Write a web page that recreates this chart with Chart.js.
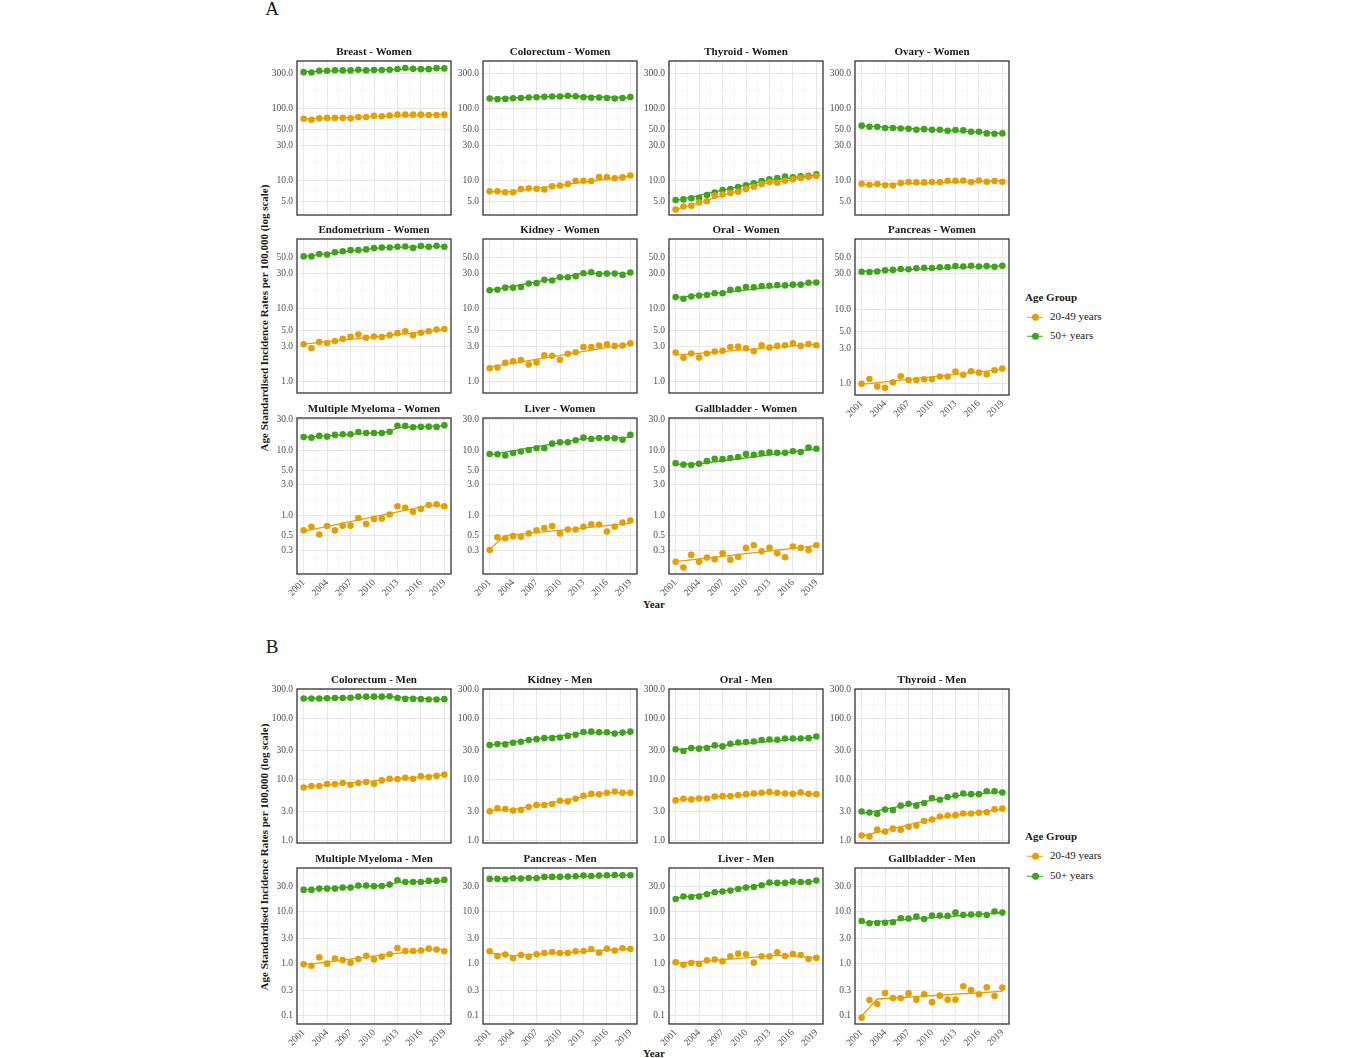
<!DOCTYPE html>
<html>
<head>
<meta charset="utf-8">
<script src="https://cdn.jsdelivr.net/npm/chart.js@4.4.1/dist/chart.umd.min.js"></script>
<style>
  body { margin: 0; background: #fff; width: 1366px; height: 1058px; position: relative; overflow: hidden;
         font-family: "Liberation Serif", "Times New Roman", serif; color: #1a1a1a; }
  .lbl { position: absolute; white-space: nowrap; }
  .bold { font-weight: bold; }
  .key { display: inline-block; position: relative; width: 16px; height: 10px; margin-right: 7px; vertical-align: middle; }
  .key::before { content: ''; position: absolute; left: 0; right: 0; top: 4.4px; height: 1.3px; background: var(--c); }
  .key::after { content: ''; position: absolute; left: 4.5px; top: 1.5px; width: 7px; height: 7px; border-radius: 50%; background: var(--c); }
</style>
</head>
<body>

<div class="lbl" style="left:272px;top:9px;transform:translate(-50%,-50%);font-size:19px">A</div>
<div class="lbl" style="left:272px;top:647px;transform:translate(-50%,-50%);font-size:19px">B</div>

<div class="lbl bold" style="left:264px;top:318px;transform:translate(-50%,-50%) rotate(-90deg);font-size:11px">Age Standardised Incidence Rates per 100,000 (log scale)</div>
<div class="lbl bold" style="left:264px;top:857px;transform:translate(-50%,-50%) rotate(-90deg);font-size:11px">Age Standardised Incidence Rates per 100,000 (log scale)</div>

<div class="lbl bold" style="left:654px;top:604px;transform:translate(-50%,-50%);font-size:11px">Year</div>
<div class="lbl bold" style="left:654px;top:1053px;transform:translate(-50%,-50%);font-size:11px">Year</div>

<!-- legends -->
<div class="lbl bold" style="left:1025px;top:297px;transform:translateY(-50%);font-size:11px">Age Group</div>
<div class="lbl" style="left:1027px;top:316px;transform:translateY(-50%);font-size:11px"><span class="key" style="--c:#E69F00"></span>20-49 years</div>
<div class="lbl" style="left:1027px;top:335px;transform:translateY(-50%);font-size:11px"><span class="key" style="--c:#3FA31C"></span>50+ years</div>

<div class="lbl bold" style="left:1025px;top:836px;transform:translateY(-50%);font-size:11px">Age Group</div>
<div class="lbl" style="left:1027px;top:855px;transform:translateY(-50%);font-size:11px"><span class="key" style="--c:#E69F00"></span>20-49 years</div>
<div class="lbl" style="left:1027px;top:875px;transform:translateY(-50%);font-size:11px"><span class="key" style="--c:#3FA31C"></span>50+ years</div>

<script>
// ---- data ----
const years = [2001, 2002, 2003, 2004, 2005, 2006, 2007, 2008, 2009, 2010, 2011, 2012, 2013, 2014, 2015, 2016, 2017, 2018, 2019];
const xTickLabels = [2001, 2004, 2007, 2010, 2013, 2016, 2019];

const yTicksA1 = [5, 10, 30, 50, 100, 300];
const yTicksA2 = [1, 3, 5, 10, 30, 50];
const yTicksA3 = [0.3, 0.5, 1, 3, 5, 10, 30];
const yTicksB1 = [1, 3, 10, 30, 100, 300];
const yTicksB2 = [0.1, 0.3, 1, 3, 10, 30];

// A - Women
const breastW_young = [71, 69, 72, 73, 73, 73, 72, 75, 75, 78, 77, 79, 81, 81, 81, 81, 80, 80, 81];
const breastW_old = [315, 312, 330, 330, 335, 333, 333, 340, 333, 337, 337, 340, 348, 360, 350, 347, 347, 358, 355];
const breastW_youngFit = [[2001, 71], [2019, 81.5]];
const breastW_oldFit = [[2001, 320], [2019, 355]];

const colorectumW_young = [7.0, 7.0, 6.8, 6.8, 7.5, 7.7, 7.6, 7.4, 8.2, 8.4, 8.8, 9.8, 9.8, 9.7, 11.0, 11.0, 10.6, 10.9, 11.6];
const colorectumW_old = [136, 133, 134, 137, 138, 140, 141, 143, 145, 145, 148, 146, 141, 139, 140, 138, 136, 138, 142];
const colorectumW_youngFit = [[2001, 6.9], [2004, 7.0], [2019, 11.4]];
const colorectumW_oldFit = [[2001, 135], [2011, 147], [2019, 139]];

const thyroidW_young = [3.9, 4.3, 4.4, 4.9, 5.1, 6.1, 6.3, 6.6, 6.9, 7.5, 8.1, 8.8, 9.4, 9.2, 9.8, 10.3, 10.7, 11.1, 11.4];
const thyroidW_old = [5.3, 5.4, 5.6, 5.7, 6.2, 6.7, 7.3, 7.5, 8.0, 8.5, 9.0, 9.7, 10.3, 10.7, 11.2, 10.9, 11.3, 11.5, 12.0];
const thyroidW_youngFit = [[2001, 3.9], [2012, 8.9], [2019, 11.2]];
const thyroidW_oldFit = [[2001, 5.2], [2012, 9.6], [2019, 11.8]];

const ovaryW_young = [8.9, 8.6, 8.8, 8.5, 8.4, 9.1, 9.4, 9.3, 9.3, 9.4, 9.4, 9.8, 9.8, 9.9, 9.4, 9.9, 9.5, 9.7, 9.5];
const ovaryW_old = [57, 55, 55, 53, 53, 52, 51.5, 50, 51, 50, 50, 48.5, 49.5, 49, 47, 47, 44.5, 44, 44.5];
const ovaryW_youngFit = [[2001, 8.6], [2019, 9.8]];
const ovaryW_oldFit = [[2001, 56.5], [2019, 44.5]];

const endometriumW_young = [3.23, 2.85, 3.47, 3.36, 3.58, 3.84, 4.09, 4.39, 3.97, 4.13, 4.05, 4.3, 4.58, 4.87, 4.3, 4.63, 4.87, 5.13, 5.23];
const endometriumW_old = [51, 51, 55, 54, 58, 60, 62, 62, 63.5, 66, 67.5, 67.5, 69, 69.5, 66.5, 70.5, 69, 71, 69];
const endometriumW_youngFit = [[2001, 3.25], [2019, 5.1]];
const endometriumW_oldFit = [[2001, 51], [2011, 67], [2019, 70]];

const kidneyW_young = [1.52, 1.56, 1.80, 1.89, 1.97, 1.71, 1.83, 2.28, 2.25, 1.99, 2.40, 2.52, 2.97, 2.97, 3.10, 3.23, 3.07, 3.10, 3.33];
const kidneyW_old = [17.6, 17.9, 19.1, 19.1, 19.5, 21.8, 22.0, 24.4, 23.9, 26.5, 26.5, 27.4, 30.0, 31.0, 29.4, 29.7, 29.7, 28.5, 30.7];
const kidneyW_youngFit = [[2001, 1.58], [2019, 3.3]];
const kidneyW_oldFit = [[2001, 17.5], [2013, 29.8], [2019, 30]];

const oralW_young = [2.50, 2.12, 2.42, 2.14, 2.42, 2.57, 2.63, 2.97, 3.0, 2.85, 2.60, 3.13, 2.91, 3.07, 3.13, 3.33, 3.07, 3.26, 3.13];
const oralW_old = [14.2, 13.5, 14.5, 14.9, 15.2, 16.0, 16.0, 17.8, 18.2, 19.5, 19.3, 20.1, 20.3, 20.7, 20.5, 21.0, 21.0, 22.3, 22.5];
const oralW_youngFit = [[2001, 2.3], [2019, 3.25]];
const oralW_oldFit = [[2001, 14], [2019, 22.5]];

const pancreasW_young = [0.99, 1.15, 0.91, 0.875, 1.04, 1.25, 1.11, 1.11, 1.14, 1.14, 1.24, 1.24, 1.45, 1.31, 1.46, 1.40, 1.33, 1.51, 1.59];
const pancreasW_old = [31.9, 31.6, 32.2, 33.3, 33.8, 34.7, 34.4, 35.6, 36.1, 35.9, 36.6, 37.0, 38.0, 37.6, 38.4, 37.6, 38.0, 37.3, 38.4];
const pancreasW_youngFit = [[2001, 0.97], [2019, 1.55]];
const pancreasW_oldFit = [[2001, 32.3], [2019, 38.3]];

const myelomaW_young = [0.60, 0.68, 0.52, 0.70, 0.60, 0.71, 0.71, 0.93, 0.75, 0.90, 0.91, 1.05, 1.41, 1.33, 1.16, 1.28, 1.47, 1.51, 1.41];
const myelomaW_old = [16.2, 15.8, 16.8, 16.4, 17.4, 17.8, 17.8, 19.3, 18.6, 18.6, 18.6, 19.5, 24.1, 23.9, 22.8, 23.1, 23.3, 23.1, 24.4];
const myelomaW_youngFit = [[2001, 0.58], [2017, 1.45], [2019, 1.42]];
const myelomaW_oldFit = [[2001, 16.0], [2012, 19.4], [2013, 22.6], [2019, 24.0]];

const liverW_young = [0.30, 0.47, 0.455, 0.49, 0.48, 0.54, 0.60, 0.65, 0.70, 0.54, 0.62, 0.62, 0.68, 0.745, 0.74, 0.575, 0.69, 0.79, 0.85];
const liverW_old = [8.9, 8.8, 8.4, 9.2, 9.7, 10.2, 10.9, 10.9, 12.8, 13.4, 13.4, 14.4, 15.8, 15.1, 15.6, 15.6, 15.5, 14.7, 17.4];
const liverW_youngFit = [[2001, 0.31], [2003, 0.50], [2019, 0.77]];
const liverW_oldFit = [[2001, 8.6], [2013, 15.3], [2019, 16.0]];

const gallbladderW_young = [0.198, 0.162, 0.253, 0.198, 0.230, 0.217, 0.268, 0.214, 0.236, 0.324, 0.356, 0.288, 0.324, 0.268, 0.233, 0.340, 0.324, 0.300, 0.356];
const gallbladderW_old = [6.4, 6.1, 6.0, 6.3, 6.9, 7.5, 7.4, 7.7, 8.0, 8.9, 8.6, 9.1, 9.4, 9.3, 9.3, 9.8, 9.5, 11.1, 10.7];
const gallbladderW_youngFit = [[2001, 0.20], [2019, 0.35]];
const gallbladderW_oldFit = [[2001, 6.15], [2004, 6.3], [2019, 10.6]];

// B - Men
const colorectumM_young = [7.4, 7.85, 7.85, 8.46, 8.46, 8.77, 8.25, 8.77, 9.11, 8.57, 9.7, 10.3, 10.2, 10.7, 10.3, 11.4, 11.0, 11.5, 12.1];
const colorectumM_old = [216, 216, 216, 218, 221, 221, 223, 232, 232, 232, 232, 235, 221, 213, 213, 211, 208, 208, 211];
const colorectumM_youngFit = [[2001, 7.6], [2019, 12.0]];
const colorectumM_oldFit = [[2001, 215], [2012, 232], [2019, 208]];

const kidneyM_young = [3.02, 3.38, 3.29, 3.09, 3.17, 3.55, 3.82, 3.82, 3.97, 4.49, 4.38, 4.84, 5.41, 5.83, 5.75, 6.05, 6.36, 6.05, 6.05];
const kidneyM_old = [37, 38.5, 38, 40.4, 42, 44.7, 46.3, 48.1, 48.1, 49.3, 52.4, 54.5, 60.9, 61.6, 60.1, 60.1, 57.2, 59.4, 61.6];
const kidneyM_youngFit = [[2001, 3.1], [2004, 3.2], [2016, 6.1], [2019, 6.1]];
const kidneyM_oldFit = [[2001, 37], [2013, 59], [2019, 60]];

const oralM_young = [4.55, 4.84, 4.72, 4.90, 4.90, 5.28, 5.34, 5.34, 5.55, 5.76, 5.90, 6.05, 6.28, 6.05, 5.90, 5.83, 6.16, 5.83, 5.76];
const oralM_old = [31.5, 29.6, 33.1, 32.3, 33.1, 36.6, 35.2, 38.9, 40.9, 41.4, 42.5, 44.7, 45.8, 45.2, 47.5, 47.5, 47.5, 48.1, 51.2];
const oralM_youngFit = [[2001, 4.6], [2013, 6.1], [2019, 5.8]];
const oralM_oldFit = [[2001, 31], [2019, 50]];

const thyroidM_young = [1.20, 1.16, 1.51, 1.40, 1.56, 1.49, 1.68, 1.75, 2.08, 2.21, 2.47, 2.57, 2.60, 2.77, 2.77, 2.84, 2.91, 3.25, 3.33];
const thyroidM_old = [2.98, 2.87, 2.73, 3.21, 3.13, 3.73, 4.01, 3.73, 4.12, 4.96, 4.66, 5.15, 5.48, 5.90, 5.76, 5.76, 6.44, 6.44, 6.13];
const thyroidM_youngFit = [[2001, 1.18], [2011, 2.4], [2019, 3.25]];
const thyroidM_oldFit = [[2001, 2.75], [2013, 5.4], [2019, 6.3]];

const myelomaM_young = [0.96, 0.90, 1.30, 0.985, 1.23, 1.16, 1.03, 1.21, 1.40, 1.18, 1.34, 1.49, 1.97, 1.72, 1.72, 1.75, 1.91, 1.83, 1.70];
const myelomaM_old = [25.5, 25.5, 27.0, 27.0, 27.0, 28.2, 28.2, 30.8, 30.8, 29.9, 30.3, 32.2, 39.0, 36.2, 36.2, 36.2, 37.9, 37.9, 39.6];
const myelomaM_youngFit = [[2001, 0.93], [2017, 1.85], [2019, 1.85]];
const myelomaM_oldFit = [[2001, 25.8], [2012, 31.5], [2013, 35.5], [2019, 38.0]];

const pancreasM_young = [1.70, 1.38, 1.47, 1.25, 1.44, 1.34, 1.49, 1.58, 1.65, 1.58, 1.58, 1.70, 1.72, 1.88, 1.60, 1.91, 1.75, 1.94, 1.88];
const pancreasM_old = [41.4, 41.4, 40.8, 42.6, 42.0, 43.2, 42.6, 45.2, 45.2, 45.2, 45.8, 46.5, 47.9, 47.2, 47.9, 48.6, 49.3, 48.6, 48.6];
const pancreasM_youngFit = [[2001, 1.56], [2004, 1.40], [2019, 1.9]];
const pancreasM_oldFit = [[2001, 41.3], [2019, 49]];

const liverM_young = [1.045, 0.94, 1.015, 0.97, 1.14, 1.18, 1.09, 1.36, 1.53, 1.49, 1.03, 1.36, 1.36, 1.62, 1.38, 1.51, 1.44, 1.21, 1.27];
const liverM_old = [17.1, 19.0, 18.7, 19.0, 21.0, 23.0, 23.7, 24.7, 26.6, 28.2, 29.0, 31.3, 35.2, 34.7, 34.7, 36.7, 36.1, 36.1, 38.4];
const liverM_youngFit = [[2001, 1.0], [2014, 1.42], [2019, 1.28]];
const liverM_oldFit = [[2001, 17.5], [2013, 33.5], [2019, 37.5]];

const gallbladderM_young = [0.091, 0.198, 0.166, 0.27, 0.216, 0.216, 0.265, 0.201, 0.255, 0.18, 0.24, 0.201, 0.201, 0.362, 0.308, 0.255, 0.347, 0.237, 0.342];
const gallbladderM_old = [6.48, 5.85, 5.93, 6.0, 6.1, 7.29, 7.18, 7.85, 7.08, 8.2, 8.2, 8.1, 9.36, 8.45, 8.58, 8.7, 8.45, 9.8, 9.36];
const gallbladderM_youngFit = [[2001, 0.097], [2003, 0.207], [2019, 0.29]];
const gallbladderM_oldFit = [[2001, 6.0], [2019, 9.3]];

// ---- layout ----
const ORANGE = '#E69F00';
const GREEN = '#3FA31C';
const FONT = '"Liberation Serif", "Times New Roman", serif';
const PANEL_W = 156, PANEL_H = 156, AXIS_W = 40, TITLE_H = 16, XLAB_H = 32, PAD = 2;
const X_MIN = 2000.15, X_MAX = 2019.85;
const colLeft = [297, 483, 669, 855];

const rowSpec = {
  A1: { top: 61,  min: 3.28,  max: 450,  ticks: yTicksA1 },
  A2: { top: 239, min: 0.71,  max: 88,   ticks: yTicksA2 },
  A3: { top: 418, min: 0.129, max: 31.6, ticks: yTicksA3 },
  B1: { top: 689, min: 0.905, max: 310,  ticks: yTicksB1 },
  B2: { top: 868, min: 0.0687, max: 67,  ticks: yTicksB2 }
};

const panels = [
  { title: 'Breast - Women', row: 'A1', col: 0, y: breastW_young, o: breastW_old, yf: breastW_youngFit, of: breastW_oldFit },
  { title: 'Colorectum - Women', row: 'A1', col: 1, y: colorectumW_young, o: colorectumW_old, yf: colorectumW_youngFit, of: colorectumW_oldFit },
  { title: 'Thyroid - Women', row: 'A1', col: 2, y: thyroidW_young, o: thyroidW_old, yf: thyroidW_youngFit, of: thyroidW_oldFit },
  { title: 'Ovary - Women', row: 'A1', col: 3, y: ovaryW_young, o: ovaryW_old, yf: ovaryW_youngFit, of: ovaryW_oldFit },
  { title: 'Endometrium - Women', row: 'A2', col: 0, y: endometriumW_young, o: endometriumW_old, yf: endometriumW_youngFit, of: endometriumW_oldFit },
  { title: 'Kidney - Women', row: 'A2', col: 1, y: kidneyW_young, o: kidneyW_old, yf: kidneyW_youngFit, of: kidneyW_oldFit },
  { title: 'Oral - Women', row: 'A2', col: 2, y: oralW_young, o: oralW_old, yf: oralW_youngFit, of: oralW_oldFit },
  { title: 'Pancreas - Women', row: 'A2', col: 3, y: pancreasW_young, o: pancreasW_old, yf: pancreasW_youngFit, of: pancreasW_oldFit, xLabels: true },
  { title: 'Multiple Myeloma - Women', row: 'A3', col: 0, y: myelomaW_young, o: myelomaW_old, yf: myelomaW_youngFit, of: myelomaW_oldFit, xLabels: true },
  { title: 'Liver - Women', row: 'A3', col: 1, y: liverW_young, o: liverW_old, yf: liverW_youngFit, of: liverW_oldFit, xLabels: true },
  { title: 'Gallbladder - Women', row: 'A3', col: 2, y: gallbladderW_young, o: gallbladderW_old, yf: gallbladderW_youngFit, of: gallbladderW_oldFit, xLabels: true },
  { title: 'Colorectum - Men', row: 'B1', col: 0, y: colorectumM_young, o: colorectumM_old, yf: colorectumM_youngFit, of: colorectumM_oldFit },
  { title: 'Kidney - Men', row: 'B1', col: 1, y: kidneyM_young, o: kidneyM_old, yf: kidneyM_youngFit, of: kidneyM_oldFit },
  { title: 'Oral - Men', row: 'B1', col: 2, y: oralM_young, o: oralM_old, yf: oralM_youngFit, of: oralM_oldFit },
  { title: 'Thyroid - Men', row: 'B1', col: 3, y: thyroidM_young, o: thyroidM_old, yf: thyroidM_youngFit, of: thyroidM_oldFit },
  { title: 'Multiple Myeloma - Men', row: 'B2', col: 0, y: myelomaM_young, o: myelomaM_old, yf: myelomaM_youngFit, of: myelomaM_oldFit, xLabels: true },
  { title: 'Pancreas - Men', row: 'B2', col: 1, y: pancreasM_young, o: pancreasM_old, yf: pancreasM_youngFit, of: pancreasM_oldFit, xLabels: true },
  { title: 'Liver - Men', row: 'B2', col: 2, y: liverM_young, o: liverM_old, yf: liverM_youngFit, of: liverM_oldFit, xLabels: true },
  { title: 'Gallbladder - Men', row: 'B2', col: 3, y: gallbladderM_young, o: gallbladderM_old, yf: gallbladderM_youngFit, of: gallbladderM_oldFit, xLabels: true }
];

// ---- helpers ----
// minor breaks sit halfway (in log space) between major breaks, like ggplot
function logTicks(majors, min, max) {
  const lg = majors.map(Math.log10);
  const minors = [];
  for (let i = 0; i < lg.length - 1; i++) minors.push((lg[i] + lg[i + 1]) / 2);
  minors.push(lg[0] - (lg[1] - lg[0]) / 2);
  minors.push(lg[lg.length - 1] + (lg[lg.length - 1] - lg[lg.length - 2]) / 2);
  const out = majors.map(v => ({ value: v }));
  minors.forEach(l => out.push({ value: Math.pow(10, l), minor: true }));
  return out.filter(t => t.value >= min && t.value <= max).sort((a, b) => a.value - b.value);
}

function yearTicks() {
  const out = xTickLabels.map(v => ({ value: v }));
  for (let i = 0; i < xTickLabels.length - 1; i++) out.push({ value: (xTickLabels[i] + xTickLabels[i + 1]) / 2, minor: true });
  return out.sort((a, b) => a.value - b.value);
}

const gridColor = c => (c.tick && c.tick.minor) ? '#f3f3f3' : '#e4e4e4';
const gridWidth = c => (c.tick && c.tick.minor) ? 0.6 : 0.9;

const panelBorder = {
  id: 'panelBorder',
  afterDraw(chart) {
    const a = chart.chartArea;
    const ctx = chart.ctx;
    ctx.save();
    ctx.strokeStyle = '#333333';
    ctx.lineWidth = 1.3;
    ctx.strokeRect(a.left, a.top, a.right - a.left, a.bottom - a.top);
    ctx.restore();
  }
};

function pointsOf(values) {
  return years.map((yr, i) => ({ x: yr, y: values[i] }));
}
function fitOf(pairs) {
  return pairs.map(([x, y]) => ({ x, y }));
}

// ---- draw ----
panels.forEach(p => {
  const row = rowSpec[p.row];
  const w = PANEL_W + AXIS_W + 2 * PAD;
  const h = TITLE_H + PANEL_H + (p.xLabels ? XLAB_H : 0) + PAD;
  const canvas = document.createElement('canvas');
  canvas.width = w;
  canvas.height = h;
  canvas.style.cssText = `position:absolute;left:${colLeft[p.col] - AXIS_W - PAD}px;top:${row.top - TITLE_H}px;width:${w}px;height:${h}px`;
  document.body.appendChild(canvas);

  const tickFont = { family: FONT, size: 9.5 };

  new Chart(canvas, {
    type: 'line',
    data: {
      datasets: [
        { data: pointsOf(p.y), showLine: false, pointRadius: 3.3, pointBorderWidth: 0, backgroundColor: ORANGE, borderColor: ORANGE, order: 0 },
        { data: fitOf(p.yf), borderColor: ORANGE, borderWidth: 1.3, pointRadius: 0, fill: false, order: 1 },
        { data: pointsOf(p.o), showLine: false, pointRadius: 3.3, pointBorderWidth: 0, backgroundColor: GREEN, borderColor: GREEN, order: 0 },
        { data: fitOf(p.of), borderColor: GREEN, borderWidth: 1.3, pointRadius: 0, fill: false, order: 1 }
      ]
    },
    options: {
      responsive: false,
      animation: false,
      devicePixelRatio: 1,
      events: [],
      layout: { padding: { left: PAD, right: PAD, top: 0, bottom: PAD } },
      plugins: {
        legend: { display: false },
        tooltip: { enabled: false },
        title: {
          display: true, text: p.title, fullSize: false, color: '#1a1a1a',
          font: { family: FONT, size: 11, weight: 'bold', lineHeight: 1 },
          padding: { top: 2, bottom: 3 }
        }
      },
      scales: {
        x: {
          type: 'linear', min: X_MIN, max: X_MAX,
          afterBuildTicks: s => { s.ticks = yearTicks(); },
          afterFit: s => { s.height = p.xLabels ? XLAB_H : 0; s.paddingLeft = 0; s.paddingRight = 0; },
          ticks: {
            display: !!p.xLabels, autoSkip: false, minRotation: 45, maxRotation: 45, padding: 3,
            font: tickFont, color: '#4d4d4d',
            callback: (v, i, t) => t[i].minor ? '' : String(v)
          },
          grid: { drawTicks: false, color: gridColor, lineWidth: gridWidth },
          border: { display: false }
        },
        y: {
          type: 'logarithmic', min: row.min, max: row.max,
          afterBuildTicks: s => { s.ticks = logTicks(row.ticks, row.min, row.max); },
          afterFit: s => { s.width = AXIS_W; s.paddingTop = 0; s.paddingBottom = 0; },
          ticks: {
            autoSkip: false, padding: 4, font: tickFont, color: '#4d4d4d',
            callback: (v, i, t) => t[i].minor ? '' : Number(v).toFixed(1)
          },
          grid: { drawTicks: false, color: gridColor, lineWidth: gridWidth },
          border: { display: false }
        }
      }
    },
    plugins: [panelBorder]
  });
});
</script>
</body>
</html>
